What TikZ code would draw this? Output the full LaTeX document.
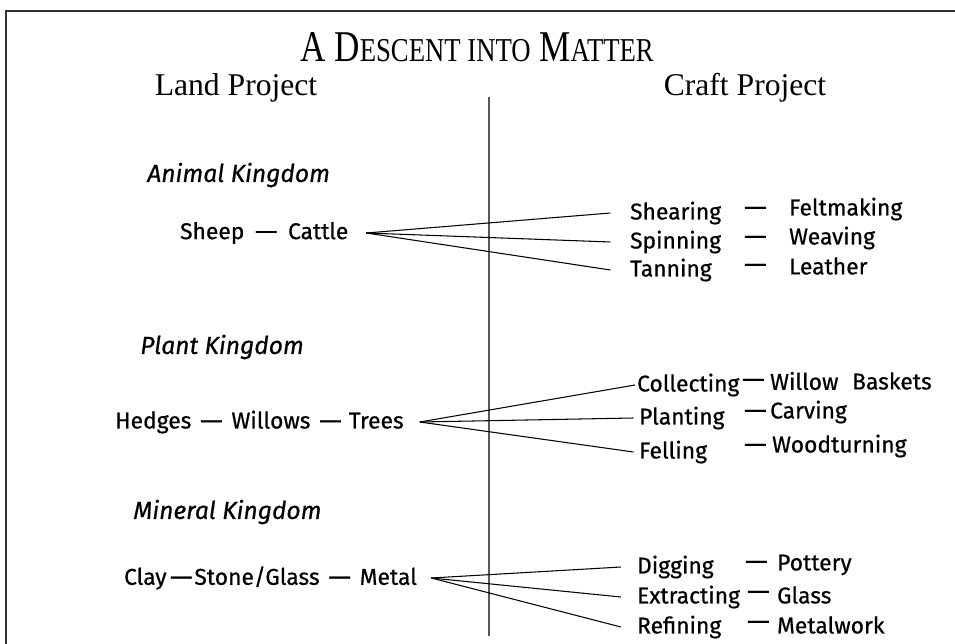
\documentclass[tikz,border=0pt]{standalone}
\usepackage{fontspec}
\setmainfont{Liberation Serif}
\newfontfamily\comic{Fira Sans}[FakeBold=0.6]

\newcommand{\smallcap}[1]{{\fontsize{19}{19}\selectfont #1}}
\newcommand{\longdash}{\scalebox{1.25}[1]{—}}

\begin{document}
\begin{tikzpicture}[x=0.02cm,y=-0.02cm,
    item/.style={font=\comic\fontsize{13}{15}\selectfont, inner sep=1pt, anchor=west},
    kingdom/.style={font=\comic\itshape\fontsize{14}{16}\selectfont, inner sep=0pt, anchor=west},
    column/.style={font=\fontsize{18}{20}\selectfont},
    fan/.style={line width=0.6pt}]
    \useasboundingbox (0,0) rectangle (955,644);

    % frame and divider
    \draw[line width=1.6pt, black!80] (6,644) -- (6,11) -- (955,11);
    \draw[line width=1pt, black!65] (489,97) -- (489,636);

    \node (title) at (477,47) {\scalebox{0.8}[1]{\fontsize{25}{28}\selectfont A D\smallcap{ESCENT INTO} M\smallcap{ATTER}}};
    \node[column] (land) at (236,88) {Land Project};
    \node[column] (craft) at (745,88) {Craft Project};

    % animal
    \node[kingdom] (animal) at (147,175) {Animal Kingdom};
    \node[item] (sheep) at (178,233) {Sheep\hspace{6pt}\longdash\hspace{6pt}Cattle};
    \node[item] (shearing) at (628,213) {Shearing};
    \node[item] (spinning) at (628,242) {Spinning};
    \node[item] (tanning) at (628,270) {Tanning};
    \node[item] (dash1) at (742,211) {\longdash};
    \node[item] (dash2) at (742,240) {\longdash};
    \node[item] (dash3) at (742,268) {\longdash};
    \node[item] (felt) at (787,209) {Feltmaking};
    \node[item] (weaving) at (787,238) {Weaving};
    \node[item] (leather) at (787,266) {Leather};

    % plant
    \node[kingdom] (plant) at (140,347) {Plant Kingdom};
    \node[item] (hedges) at (113,422) {Hedges\hspace{5pt}\longdash\hspace{5pt}Willows\hspace{5pt}\longdash\hspace{4pt}Trees};
    \node[item] (collecting) at (635,385) {Collecting};
    \node[item] (planting) at (637,418) {Planting};
    \node[item] (felling) at (637,452) {Felling};
    \node[item] (dash4) at (740,383) {\longdash};
    \node[item] (dash5) at (742,414) {\longdash};
    \node[item] (dash6) at (742,448) {\longdash};
    \node[item] (willow) at (768,381) {Willow};
    \node[item] (baskets) at (850,381) {Baskets};
    \node[item] (carving) at (768,412) {Carving};
    \node[item] (wood) at (770,446) {Woodturning};

    % mineral
    \node[kingdom] (mineral) at (133,512) {Mineral Kingdom};
    \node[item] (clay) at (122,578) {Clay\hspace{2pt}\longdash\hspace{1pt}Stone/Glass\hspace{5pt}\longdash\hspace{5pt}Metal};
    \node[item] (digging) at (635,567) {Digging};
    \node[item] (extracting) at (635,597) {Extracting};
    \node[item] (refining) at (635,627) {Refining};
    \node[item] (dash7) at (743,565) {\longdash};
    \node[item] (dash8) at (745,595) {\longdash};
    \node[item] (dash9) at (745,625) {\longdash};
    \node[item] (pottery) at (775,565) {Pottery};
    \node[item] (glass) at (775,595) {Glass};
    \node[item] (metalwork) at (775,625) {Metalwork};

    \draw[fan] ([xshift=9pt]sheep.east) -- ([xshift=-10pt]shearing.west);
    \draw[fan] ([xshift=9pt]sheep.east) -- ([xshift=-10pt]spinning.west);
    \draw[fan] ([xshift=9pt]sheep.east) -- ([xshift=-10pt]tanning.west);

    \draw[fan] ([xshift=8pt]hedges.east) -- (collecting.west);
    \draw[fan] ([xshift=8pt]hedges.east) -- ([xshift=-2pt]planting.west);
    \draw[fan] ([xshift=8pt]hedges.east) -- ([xshift=-2pt]felling.west);

    \draw[fan] ([xshift=7pt]clay.east) -- ([xshift=-8pt]digging.west);
    \draw[fan] ([xshift=7pt]clay.east) -- ([xshift=-8pt]extracting.west);
    \draw[fan] ([xshift=7pt]clay.east) -- ([xshift=-8pt]refining.west);
\end{tikzpicture}
\end{document}
